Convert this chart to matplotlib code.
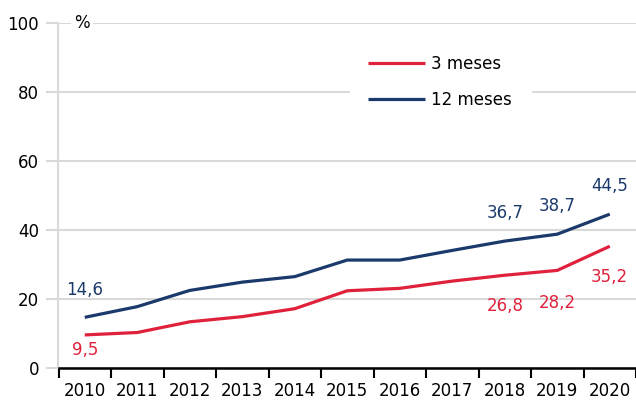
import matplotlib.pyplot as plt

# datos
years = ["2010", "2011", "2012", "2013", "2014", "2015", "2016", "2017", "2018", "2019", "2020"]
tres_meses = [9.5, 10.2, 13.3, 14.8, 17.1, 22.3, 23.0, 25.1, 26.8, 28.2, 35.2]
doce_meses = [14.6, 17.7, 22.4, 24.8, 26.4, 31.2, 31.2, 34.0, 36.7, 38.7, 44.5]

# etiquetas de datos: (índice, desplazamiento vertical en píxeles)
labels_3m = [(0, -15), (8, -31), (9, -33), (10, -31)]
labels_12m = [(0, 27), (8, 28), (9, 28), (10, 28)]

RED = "#E0213C"
NAVY = "#1B3A6B"
GRID = "#D9D9D9"
FS = 12

plt.rcParams["font.family"] = "DejaVu Sans"
plt.rcParams["font.size"] = FS

fig = plt.figure(figsize=(6.36, 4.01), dpi=100)
ax = fig.add_axes([58.5 / 636, 33.3 / 401, 1 - 58.5 / 636, (367.7 - 22.7) / 401])

x = list(range(len(years)))
ax.plot(x, tres_meses, color=RED, lw=2.3, label="3 meses", solid_capstyle="butt", zorder=3)
ax.plot(x, doce_meses, color=NAVY, lw=2.3, label="12 meses", solid_capstyle="butt", zorder=3)

for i, dy in labels_3m:
    ax.annotate(f"{tres_meses[i]:.1f}".replace(".", ","), (x[i], tres_meses[i]),
                xytext=(0, dy), textcoords="offset pixels", ha="center", va="center",
                color=RED, fontsize=FS)
for i, dy in labels_12m:
    ax.annotate(f"{doce_meses[i]:.1f}".replace(".", ","), (x[i], doce_meses[i]),
                xytext=(0, dy), textcoords="offset pixels", ha="center", va="center",
                color=NAVY, fontsize=FS)

ax.set_xlim(-0.5, len(years) - 0.5)
ax.set_ylim(0, 100)
ax.set_yticks(range(0, 101, 20))
ax.yaxis.grid(True, color=GRID, lw=1.5)
ax.set_axisbelow(True)

# eje x: marcas en los límites de categoría
ax.set_xticks([i - 0.5 for i in range(len(years) + 1)])
ax.set_xticklabels([])
ax.set_xticks(x, minor=True)
ax.set_xticklabels(years, minor=True)
ax.tick_params(axis="x", which="major", length=7, width=1.5, color="black", direction="out")
ax.tick_params(axis="x", which="minor", length=0, pad=10, labelsize=FS)
ax.tick_params(axis="y", length=9, width=1.5, color=GRID, pad=5, labelsize=FS)

for s in ["top", "right"]:
    ax.spines[s].set_visible(False)
ax.spines["left"].set_color(GRID)
ax.spines["left"].set_linewidth(1.5)
ax.spines["bottom"].set_color("black")
ax.spines["bottom"].set_linewidth(1.8)

ax.text(-0.05, 100, "%", ha="center", va="center", fontsize=FS,
        bbox=dict(facecolor="white", edgecolor="none", pad=2), zorder=4)

leg = ax.legend(loc="upper left", bbox_to_anchor=(0.49, 0.985), frameon=True,
                fancybox=False, edgecolor="white", facecolor="white", framealpha=1,
                handlelength=3.4, handletextpad=0.4, labelspacing=1.1,
                borderpad=1.1, fontsize=FS)
leg.set_zorder(5)

fig.savefig("out.png", dpi=100)
